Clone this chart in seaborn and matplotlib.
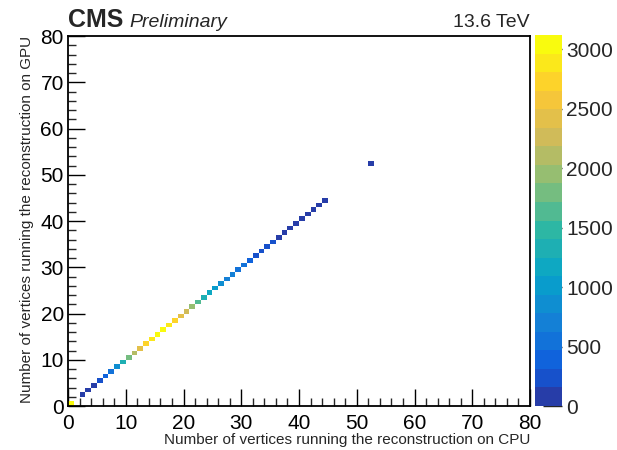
import numpy as np
import matplotlib
matplotlib.use("Agg")
import matplotlib.pyplot as plt
from matplotlib.colors import ListedColormap, LinearSegmentedColormap
import seaborn as sns

# ---- data: (CPU nvtx, GPU nvtx) bins and their entries ----
cpu_nvtx = [0, 2, 3, 4, 5, 6, 7, 8, 9, 10, 11, 12, 13, 14, 15, 16, 17, 18, 19,
            20, 21, 22, 23, 24, 25, 26, 27, 28, 29, 30, 31, 32, 33, 34, 35, 36,
            37, 38, 39, 40, 41, 42, 43, 44, 52]
gpu_nvtx = list(cpu_nvtx)
entries = [3120, 60, 100, 150, 250, 420, 620, 900, 1250, 1800, 2050, 2400, 2800,
           2950, 3000, 2980, 2900, 2700, 2450, 2250, 1950, 1650, 1400, 1150, 950,
           850, 700, 650, 580, 500, 400, 280, 230, 200, 170, 140, 120, 100, 80,
           60, 50, 40, 30, 20, 5]
z_max = 3120
cbar_ticks = [0, 500, 1000, 1500, 2000, 2500, 3000]
axis_ticks = [0, 10, 20, 30, 40, 50, 60, 70, 80]

# ---- ROOT kBird palette, 20 contour levels ----
stops = [0.0, 0.125, 0.25, 0.375, 0.5, 0.625, 0.75, 0.875, 1.0]
red = [0.2082, 0.0592, 0.0780, 0.0232, 0.1802, 0.5301, 0.8186, 0.9956, 0.9764]
green = [0.1664, 0.3599, 0.5041, 0.6419, 0.7178, 0.7492, 0.7328, 0.7862, 0.9832]
blue = [0.5293, 0.8684, 0.8385, 0.7914, 0.6425, 0.4662, 0.3499, 0.1968, 0.0539]
bird = LinearSegmentedColormap.from_list(
    "bird", [(s, (r, g, b)) for s, r, g, b in zip(stops, red, green, blue)])
nlev = 20
cmap = ListedColormap([bird(min((i + 0.99) / nlev, 1.0)) for i in range(nlev)])

sns.set_theme(style="ticks")
plt.rcParams["font.family"] = ["Liberation Sans", "DejaVu Sans"]

fig = plt.figure(figsize=(6.17, 4.50), dpi=100)
ax = fig.add_axes([68 / 617, 44 / 450, 462 / 617, 370 / 450])
cax = fig.add_axes([535 / 617, 44 / 450, 27 / 617, 371 / 450])

x = np.array(cpu_nvtx) + 0.5
y = np.array(gpu_nvtx) + 0.5
sns.histplot(x=x, y=y, weights=entries, binwidth=1, binrange=(0, 80),
             cmap=cmap, vmin=0, vmax=z_max, cbar=True, cbar_ax=cax, ax=ax)

ax.set_xlim(0, 80)
ax.set_ylim(0, 80)
ax.set_xticks(axis_ticks)
ax.set_yticks(axis_ticks)
ax.set_xticks(np.arange(0, 81, 2), minor=True)
ax.set_yticks(np.arange(0, 81, 2), minor=True)
ax.tick_params(axis="both", which="major", direction="in", length=12, width=1,
               labelsize=15, colors="black", pad=3)
ax.tick_params(axis="x", which="major", pad=6)
ax.tick_params(axis="both", which="minor", direction="in", length=6, width=1)
for sp in ax.spines.values():
    sp.set_visible(True)
    sp.set_linewidth(1.3)
    sp.set_color("black")

ax.set_xlabel("Number of vertices running the reconstruction on CPU",
              fontsize=11, loc="right", labelpad=0)
ax.set_ylabel("Number of vertices running the reconstruction on GPU",
              fontsize=11, loc="top", labelpad=5)

# colorbar styling
cb = ax.collections[0].colorbar
cax.set_yticks(cbar_ticks)
cax.tick_params(axis="y", which="major", direction="in", length=14, width=1,
                labelsize=15, right=True, left=False, pad=3)
cax.minorticks_off()
for sp in cax.spines.values():
    sp.set_visible(False)
cb.outline.set_visible(False)

fig.text(68 / 617, 1 - 27 / 450, "CMS", fontsize=18, fontweight="bold",
         ha="left", va="baseline")
fig.text(129 / 617, 1 - 27 / 450, "Preliminary", fontsize=14, style="italic",
         ha="left", va="baseline")
fig.text(530 / 617, 1 - 27 / 450, "13.6 TeV", fontsize=14,
         ha="right", va="baseline")

fig.savefig("out.png", dpi=100)
